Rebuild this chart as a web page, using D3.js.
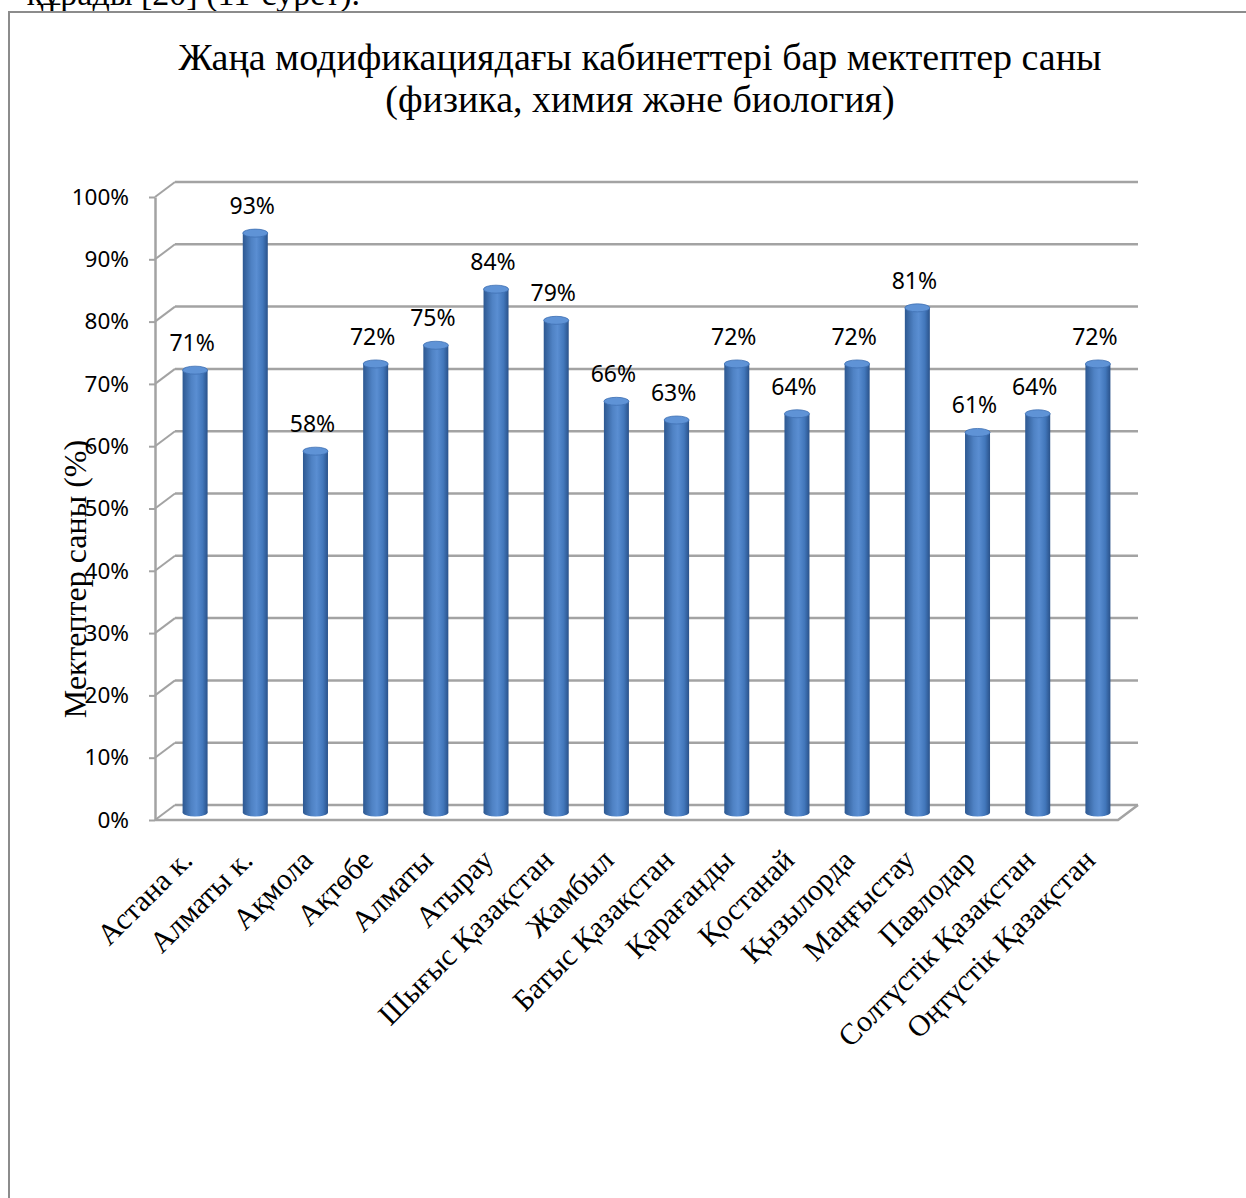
<!DOCTYPE html>
<html>
<head>
<meta charset="utf-8">
<script src="https://cdn.jsdelivr.net/npm/d3@7"></script>
<style>
  body { margin: 0; background: #fff; }
  svg { display: block; }
</style>
</head>
<body>
<svg id="chart" width="1246" height="1198"></svg>
<script>
// data
const regions = ["Астана к.", "Алматы к.", "Ақмола", "Ақтөбе", "Алматы", "Атырау",
  "Шығыс Қазақстан", "Жамбыл", "Батыс Қазақстан", "Қарағанды", "Қостанай",
  "Қызылорда", "Маңғыстау", "Павлодар", "Солтүстік Қазақстан", "Оңтүстік Қазақстан"];
const shares = [71, 93, 58, 72, 75, 84, 79, 66, 63, 72, 64, 72, 81, 61, 64, 72];
const yTicks = [0, 10, 20, 30, 40, 50, 60, 70, 80, 90, 100];
const titleLines = ["Жаңа модификациядағы кабинеттері бар мектептер саны",
  "(физика, химия және биология)"];
const yTitle = "Мектептер саны (%)";

const svg = d3.select("#chart");
const serif = "'Liberation Serif', 'Times New Roman', serif";
const sans = "'Noto Sans', 'Open Sans', sans-serif";

// fake 3d depth of the plot box
const depth = { dx: 20, dy: -15 };
const front = { left: 155, right: 1118, bottom: 820, top: 197 };

const y = d3.scaleLinear().domain([0, 100]).range([front.bottom, front.top]);
const x = d3.scaleBand().domain(regions)
  .range([front.left + depth.dx / 2, front.right + depth.dx / 2]);

// text cut at the top of the page and the frame
svg.append("text")
  .attr("x", 360).attr("y", 5)
  .attr("text-anchor", "end")
  .style("font-family", serif).style("font-size", "34px")
  .text("құрады [20] (11-сурет).");

svg.append("path")
  .attr("d", "M9,1198 V12 H1246")
  .attr("fill", "none").attr("stroke", "#8c8c8c").attr("stroke-width", 2);

// title
svg.append("g").selectAll("text").data(titleLines).join("text")
  .attr("x", 640).attr("y", (d, i) => 70 + i * 42)
  .attr("text-anchor", "middle")
  .style("font-family", serif).style("font-size", "38px")
  .text(d => d);

// back wall grid + side wall diagonals
const grid = svg.append("g").attr("class", "grid");
grid.selectAll("line.h").data(yTicks).join("line")
  .attr("class", "h")
  .attr("x1", front.left + depth.dx).attr("x2", front.right + depth.dx)
  .attr("y1", d => y(d) + depth.dy).attr("y2", d => y(d) + depth.dy)
  .attr("stroke", "#a3a3a3").attr("stroke-width", 2.5);
grid.selectAll("line.d").data(yTicks).join("line")
  .attr("class", "d")
  .attr("x1", front.left).attr("x2", front.left + depth.dx)
  .attr("y1", d => y(d)).attr("y2", d => y(d) + depth.dy)
  .attr("stroke", "#a3a3a3").attr("stroke-width", 2);

// floor front edge and right edge
svg.append("path")
  .attr("d", `M${front.left},${front.bottom} H${front.right} L${front.right + depth.dx},${front.bottom + depth.dy}`)
  .attr("fill", "none").attr("stroke", "#a3a3a3").attr("stroke-width", 2.5);

// y axis
const yAxis = svg.append("g")
  .attr("transform", `translate(${front.left},0)`)
  .call(d3.axisLeft(y).tickValues(yTicks).tickSize(6).tickSizeOuter(0)
    .tickPadding(20).tickFormat(d => d + "%"));
yAxis.select(".domain").attr("stroke", "#a3a3a3").attr("stroke-width", 2.5);
yAxis.selectAll(".tick line").attr("stroke", "#a3a3a3").attr("stroke-width", 2);
yAxis.selectAll(".tick text")
  .style("font-family", sans).style("font-size", "22.5px").attr("fill", "#000");

svg.append("text")
  .attr("transform", "translate(86,579) rotate(-90)")
  .attr("text-anchor", "middle")
  .style("font-family", serif).style("font-size", "32px")
  .text(yTitle);

// cylinders
const defs = svg.append("defs");
const side = defs.append("linearGradient").attr("id", "side");
side.selectAll("stop").data([
  [0, "#2d5891"], [0.35, "#4f82c4"], [0.55, "#5a8ed2"], [0.8, "#4277bb"], [1, "#2a528a"]
]).join("stop").attr("offset", d => d[0]).attr("stop-color", d => d[1]);

const bw = 25, ry = 4;
const mid = depth.dy / 2;
const bars = svg.append("g").selectAll("g").data(regions).join("g")
  .attr("transform", d => `translate(${x(d) + x.bandwidth() / 2},0)`);

bars.append("ellipse")
  .attr("cx", 0).attr("cy", y(0) + mid)
  .attr("rx", bw / 2).attr("ry", ry)
  .attr("fill", "url(#side)");
bars.append("rect")
  .attr("x", -bw / 2).attr("width", bw)
  .attr("y", (d, i) => y(shares[i]) + mid)
  .attr("height", (d, i) => y(0) - y(shares[i]))
  .attr("fill", "url(#side)");
bars.append("ellipse")
  .attr("cx", 0).attr("cy", (d, i) => y(shares[i]) + mid)
  .attr("rx", bw / 2).attr("ry", ry)
  .attr("fill", "#5f93d6").attr("stroke", "#3f70b2").attr("stroke-width", 0.8);

// value labels
bars.append("text")
  .attr("x", -3).attr("y", (d, i) => y(shares[i]) + mid - 19)
  .attr("text-anchor", "middle")
  .style("font-family", sans).style("font-size", "23px")
  .text((d, i) => shares[i] + "%");

// category labels
bars.append("text")
  .attr("transform", "translate(-1,862) rotate(-45)")
  .attr("text-anchor", "end")
  .style("font-family", serif).style("font-size", "30px")
  .text(d => d);
</script>
</body>
</html>
